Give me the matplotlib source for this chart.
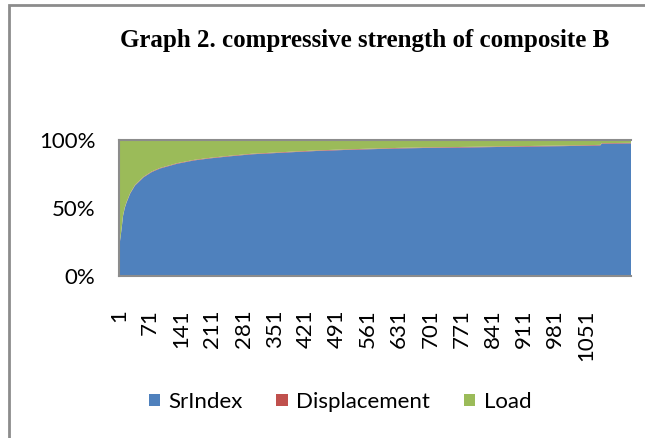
import numpy as np
import matplotlib.pyplot as plt
from matplotlib.patches import Rectangle

# values (row index, share of each series in %)
rows = [1, 3, 5, 7, 10, 14, 18, 26, 37, 56, 75, 93, 131, 170, 206, 250, 300,
        388, 450, 520, 630, 700, 800, 900, 1000, 1083, 1086, 1152]
sr_index = [18, 25, 30, 35, 44, 50, 54, 60.5, 66.5, 72.5, 76.5, 79, 82.5, 85,
            86.5, 88, 89.5, 91, 92, 92.8, 93.8, 94.2, 94.6, 95.1, 95.5, 96,
            97.3, 97.5]
displacement = [0.4, 0.4, 0.4, 0.4, 0.4, 0.4, 0.4, 0.4, 0.4, 0.4, 0.4, 0.4,
                0.4, 0.4, 0.4, 0.4, 0.4, 0.4, 0.4, 0.4, 0.4, 0.4, 0.4, 0.4,
                0.4, 0.4, 0.4, 0.4]
load = [81.6, 74.6, 69.6, 64.6, 55.6, 49.6, 45.6, 39.1, 33.1, 27.1, 23.1,
        20.6, 17.1, 14.6, 13.1, 11.6, 10.1, 8.6, 7.6, 6.8, 5.8, 5.4, 5.0, 4.5,
        4.1, 3.6, 2.3, 2.1]
tick_rows = list(range(1, 1052, 70))
series_names = ['SrIndex', 'Displacement', 'Load']
colors = ['#4F81BD', '#C0504D', '#9BBB59']

data = np.array([sr_index, displacement, load], dtype=float)
data = data / data.sum(axis=0) * 100  # 100% stacked

fig = plt.figure(figsize=(6.45, 4.38), dpi=100)
fig.patches.append(Rectangle((9 / 645, -0.1), 1.2, 1.1 - 5 / 438,
                             transform=fig.transFigure, fill=False,
                             edgecolor='#8c8c8c', linewidth=2))

ax = fig.add_axes([119 / 645, (438 - 276) / 438, 512 / 645, 136 / 438])
ax.stackplot(rows, data, colors=colors, labels=series_names, linewidth=0)

ax.set_xlim(1, 1152)
ax.set_ylim(0, 100)
ax.set_yticks([0, 50, 100])
ax.set_yticklabels(['0%', '50%', '100%'])
ax.set_xticks(tick_rows)
ax.set_xticklabels([str(t) for t in tick_rows], rotation=90, va='top')

lab_font = 'Lato'
for lbl in ax.get_xticklabels() + ax.get_yticklabels():
    lbl.set_fontfamily(lab_font)
    lbl.set_fontsize(16)
ax.tick_params(axis='both', length=0)
ax.tick_params(axis='x', pad=24)
ax.tick_params(axis='y', pad=17)

for side in ['left', 'bottom', 'top']:
    ax.spines[side].set_color('#8c8c8c')
    ax.spines[side].set_linewidth(1.5)
ax.spines['right'].set_visible(False)

fig.text(365 / 645, 1 - 40 / 438, 'Graph 2. compressive strength of composite B',
         ha='center', va='center', fontsize=18, fontweight='bold',
         family='Liberation Serif')

ax.legend(loc='center', bbox_to_anchor=(340 / 645, 1 - 402 / 438),
          bbox_transform=fig.transFigure, ncol=3, frameon=False,
          prop={'family': lab_font, 'size': 16}, handlelength=0.5,
          handleheight=0.5, handletextpad=0.4, columnspacing=1.5)

fig.savefig('out.png', dpi=100)
